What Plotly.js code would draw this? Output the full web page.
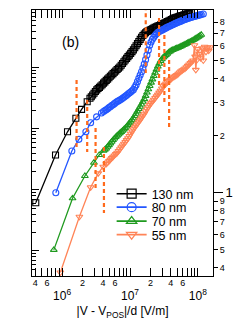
<!DOCTYPE html>
<html><head><meta charset="utf-8">
<script src="https://cdn.plot.ly/plotly-3.0.1.min.js"></script>
<style>html,body{margin:0;padding:0;background:#fff;}#plot{width:245px;height:327px;}</style>
</head><body><div id="plot"></div>
<script>
// ---- data ----
const seriesNames = ['130 nm', '80 nm', '70 nm', '55 nm'];

const x130 = [4.09e5, 7.99e5, 1.20e6, 1.594e6, 1.934e6, 2.34e6,
  2.57e6, 2.69e6, 2.818e6, 2.951e6, 3.09e6, 3.236e6, 3.388e6, 3.548e6, 3.715e6, 3.89e6,
  4.074e6, 4.266e6, 4.467e6, 4.677e6, 4.898e6, 5.129e6, 5.37e6, 5.623e6, 5.888e6, 6.166e6,
  6.457e6, 6.761e6, 7.079e6, 7.413e6, 7.762e6, 8.128e6, 8.511e6, 8.913e6, 9.333e6, 9.772e6,
  1.023e7, 1.072e7, 1.122e7, 1.175e7, 1.23e7, 1.288e7, 1.349e7, 1.413e7, 1.479e7, 1.549e7,
  1.622e7, 1.698e7, 1.778e7, 1.862e7, 1.95e7, 2.042e7, 2.138e7, 2.239e7, 2.344e7, 2.455e7,
  2.57e7, 2.692e7, 2.818e7, 2.951e7, 3.09e7, 3.236e7, 3.388e7, 3.548e7, 3.715e7, 3.89e7,
  4.074e7, 4.266e7, 4.467e7, 4.677e7, 4.898e7, 5.129e7, 5.37e7, 5.623e7, 5.888e7, 6.166e7,
  6.457e7, 6.761e7, 7.079e7, 7.413e7, 7.59e7];
const y130 = [0.885, 1.583, 2.10, 2.476, 2.762, 3.03,
  3.16, 3.22, 3.29, 3.36, 3.43, 3.50, 3.56, 3.61, 3.67, 3.73,
  3.80, 3.86, 3.93, 3.99, 4.06, 4.13, 4.20, 4.27, 4.34, 4.41,
  4.49, 4.56, 4.63, 4.73, 4.83, 4.93, 5.04, 5.14, 5.25, 5.35,
  5.46, 5.58, 5.70, 5.85, 6.00, 6.15, 6.31, 6.48, 6.65, 6.79,
  6.92, 7.03, 7.13, 7.19, 7.24, 7.31, 7.38, 7.44, 7.50, 7.56,
  7.62, 7.67, 7.73, 7.79, 7.85, 7.91, 7.98, 8.04, 8.11, 8.18,
  8.26, 8.32, 8.39, 8.44, 8.49, 8.54, 8.59, 8.63, 8.67, 8.72,
  8.77, 8.81, 8.85, 8.90, 8.93];

const x80 = [8.07e5, 1.39e6, 1.765e6, 2.24e6, 2.63e6, 3.22e6,
  3.80e6, 4.074e6, 4.266e6, 4.467e6, 4.677e6, 4.898e6, 5.129e6, 5.37e6, 5.623e6, 5.888e6,
  6.166e6, 6.457e6, 6.761e6, 7.079e6, 7.413e6, 7.762e6, 8.128e6, 8.511e6, 8.913e6, 9.333e6,
  9.772e6, 1.023e7, 1.072e7, 1.122e7, 1.175e7, 1.23e7, 1.288e7, 1.349e7, 1.413e7, 1.479e7,
  1.549e7, 1.622e7, 1.698e7, 1.778e7, 1.862e7, 1.95e7, 2.042e7, 2.138e7, 2.239e7, 2.344e7,
  2.455e7, 2.57e7, 2.692e7, 2.818e7, 2.951e7, 3.09e7, 3.236e7, 3.388e7, 3.548e7, 3.715e7,
  3.89e7, 4.074e7, 4.266e7, 4.467e7, 4.677e7, 4.898e7, 5.129e7, 5.37e7, 5.623e7, 5.888e7,
  6.166e7, 6.457e7, 6.761e7, 7.079e7, 7.413e7, 7.762e7, 8.128e7, 8.511e7, 8.913e7, 9.333e7,
  9.772e7, 1.023e8, 1.072e8, 1.122e8, 1.202e8];
const y80 = [1.0, 1.662, 1.916, 2.10, 2.346, 2.52,
  2.64, 2.69, 2.72, 2.75, 2.78, 2.82, 2.85, 2.89, 2.92, 2.96,
  3.00, 3.04, 3.06, 3.09, 3.12, 3.16, 3.20, 3.24, 3.28, 3.33,
  3.37, 3.41, 3.46, 3.51, 3.61, 3.72, 3.87, 4.03, 4.20, 4.37,
  4.57, 4.79, 5.06, 5.35, 5.68, 6.03, 6.27, 6.49, 6.65, 6.81,
  6.94, 7.06, 7.13, 7.19, 7.25, 7.31, 7.38, 7.45, 7.51, 7.57,
  7.63, 7.69, 7.75, 7.82, 7.87, 7.93, 7.98, 8.04, 8.09, 8.15,
  8.20, 8.26, 8.31, 8.36, 8.40, 8.45, 8.49, 8.53, 8.57, 8.61,
  8.65, 8.69, 8.73, 8.77, 8.83];

const x70 = [7.54e5, 1.424e6, 2.164e6, 2.94e6, 3.52e6,
  4.074e6, 4.266e6, 4.467e6, 4.677e6, 4.898e6, 5.129e6, 5.37e6, 5.623e6, 5.888e6, 6.166e6,
  6.457e6, 6.761e6, 7.079e6, 7.413e6, 7.762e6, 8.128e6, 8.511e6, 8.913e6, 9.333e6, 9.772e6,
  1.023e7, 1.072e7, 1.122e7, 1.175e7, 1.23e7, 1.288e7, 1.349e7, 1.413e7, 1.479e7, 1.549e7,
  1.622e7, 1.698e7, 1.778e7, 1.862e7, 1.95e7, 2.042e7, 2.138e7, 2.239e7, 2.344e7, 2.455e7,
  2.57e7, 2.692e7, 2.818e7, 2.951e7, 3.09e7, 3.236e7, 3.388e7, 3.548e7, 3.715e7, 3.89e7,
  4.074e7, 4.266e7, 4.467e7, 4.677e7, 4.898e7, 5.129e7, 5.37e7, 5.623e7, 5.888e7, 6.166e7,
  6.457e7, 6.761e7, 7.079e7, 7.413e7, 7.762e7, 8.128e7, 8.511e7, 8.913e7, 9.333e7, 9.772e7,
  1.023e8, 1.072e8, 1.122e8];
const y70 = [0.498, 0.934, 1.226, 1.441, 1.583,
  1.667, 1.690, 1.714, 1.750, 1.786, 1.824, 1.862, 1.899, 1.936, 1.970,
  2.004, 2.034, 2.065, 2.096, 2.128, 2.163, 2.198, 2.239, 2.28, 2.328,
  2.377, 2.427, 2.477, 2.547, 2.618, 2.694, 2.773, 2.851, 2.931, 3.027,
  3.126, 3.254, 3.388, 3.528, 3.673, 3.824, 3.981, 4.145, 4.315, 4.482,
  4.656, 4.814, 4.977, 5.087, 5.20, 5.279, 5.358, 5.445, 5.534, 5.598,
  5.662, 5.701, 5.741, 5.781, 5.821, 5.861, 5.902, 5.950, 5.998, 6.046,
  6.095, 6.152, 6.209, 6.259, 6.31, 6.368, 6.427, 6.494, 6.561, 6.63,
  6.699, 6.777, 6.855];

const x55 = [9.41e5, 1.795e6, 2.63e6, 3.40e6, 4.03e6,
  4.467e6, 4.677e6, 4.898e6, 5.129e6, 5.37e6, 5.623e6, 5.888e6, 6.166e6, 6.457e6, 6.761e6,
  7.079e6, 7.413e6, 7.762e6, 8.128e6, 8.511e6, 8.913e6, 9.333e6, 9.772e6, 1.023e7, 1.072e7,
  1.122e7, 1.175e7, 1.23e7, 1.288e7, 1.349e7, 1.413e7, 1.479e7, 1.549e7, 1.622e7, 1.698e7,
  1.778e7, 1.862e7, 1.95e7, 2.042e7, 2.138e7, 2.239e7, 2.344e7, 2.455e7, 2.57e7, 2.692e7,
  2.818e7, 2.951e7, 3.09e7, 3.236e7, 3.388e7, 3.548e7, 3.715e7, 3.89e7, 4.074e7, 4.266e7,
  4.467e7, 4.677e7, 4.898e7, 5.129e7, 5.37e7, 5.623e7, 5.888e7, 6.166e7, 6.457e7, 6.761e7,
  7.079e7, 7.413e7, 7.762e7, 8.128e7, 8.511e7,
  8.91e7, 9.12e7, 9.33e7, 9.55e7, 1.0e8, 1.047e8, 1.096e8, 1.148e8, 1.202e8, 1.259e8,
  1.318e8, 1.38e8, 1.445e8, 1.514e8];
const y55 = [0.378, 0.746, 1.068, 1.266, 1.373,
  1.419, 1.444, 1.469, 1.496, 1.524, 1.549, 1.574, 1.600, 1.626, 1.662,
  1.698, 1.738, 1.778, 1.816, 1.854, 1.897, 1.941, 1.995, 2.051, 2.109,
  2.168, 2.218, 2.27, 2.323, 2.377, 2.435, 2.495, 2.556, 2.618, 2.698,
  2.78, 2.848, 2.917, 2.978, 3.041, 3.105, 3.17, 3.236, 3.304, 3.385,
  3.467, 3.56, 3.656, 3.72, 3.784, 3.841, 3.899, 3.954, 4.009, 4.06,
  4.111, 4.154, 4.198, 4.261, 4.325, 4.385, 4.446, 4.492, 4.539, 4.613,
  4.688, 4.77, 4.853, 4.93, 5.012,
  6.03, 5.25, 4.47, 5.01, 5.75, 5.43, 5.15, 5.82, 5.01, 5.92,
  5.56, 5.86, 5.65, 5.89];

// dashed orange markers (vertical segments)
const kneeX      = [1.706e7, 2.68e7, 3.21e7, 3.77e7, 1.632e6, 2.34e6, 3.11e6, 4.13e6];
const kneeTop    = [9.7, 8.40, 6.83, 5.04, 3.95, 3.09, 2.20, 1.745];
const kneeBottom = [4.30, 3.58, 2.98, 2.20, 1.745, 1.642, 1.033, 0.781];

// tick values / labels
const xMajorVals = [1e6, 1e7, 1e8];
const xMajorText = ['10<sup>6</sup>', '10<sup>7</sup>', '10<sup>8</sup>'];
const xMinorVals = [4e5,5e5,6e5,7e5,8e5,9e5, 2e6,3e6,4e6,5e6,6e6,7e6,8e6,9e6, 2e7,3e7,4e7,5e7,6e7,7e7,8e7,9e7];
const xMinorLabVals = [4e5, 6e5, 2e6, 4e6, 6e6, 2e7, 4e7, 6e7];
const xMinorLabText = ['4', '6', '2', '4', '6', '2', '4', '6'];
const yRightVals = [0.4,0.5,0.6,0.7,0.8,0.9, 2,3,4,5,6,7,8];
const yRightText = ['4','5','6','7','8','9', '2','3','4','5','6','7','8'];
const yRightMajorVals = [1];
const yRightMajorText = ['1'];
const yLeftMajorVals = [0.1, 1, 10, 100];
const yLeftMinorVals = [0.04,0.05,0.06,0.07,0.08,0.09, 0.2,0.3,0.4,0.5,0.6,0.7,0.8,0.9, 2,3,4,5,6,7,8,9, 20,30,40,50,60,70,80,90, 200,300,400,500,600,700,800];

const colors = ['#000000', '#2356ff', '#1f9a1f', '#ff8457'];
const symbols = ['square-open', 'circle-open', 'triangle-up-open', 'triangle-down-open'];
const dashColor = '#ff6a1c';

const xs = [x130, x80, x70, x55];
const ys = [y130, y80, y70, y55];

const traces = [];
for (let i = 0; i < 4; i++) {
  traces.push({
    x: xs[i], y: ys[i], type: 'scatter', mode: 'lines+markers',
    line: {color: colors[i], width: 1.3},
    marker: {symbol: symbols[i], size: 6, color: colors[i], line: {width: 1.1, color: colors[i]}},
    showlegend: false, hoverinfo: 'skip'
  });
}
// dashed vertical segments
const dx = [], dy = [];
for (let i = 0; i < kneeX.length; i++) {
  dx.push(kneeX[i], kneeX[i], null);
  dy.push(kneeTop[i], kneeBottom[i], null);
}
traces.push({x: dx, y: dy, type: 'scatter', mode: 'lines',
  line: {color: dashColor, width: 2.2, dash: '4px,3px'}, showlegend: false, hoverinfo: 'skip'});

// legend-only entries (one legend box per row)
const legendIds = ['legend', 'legend2', 'legend3', 'legend4'];
const legAxes = [['x2','y'], ['x','y2'], ['x','y3'], ['x','y']];
for (let i = 0; i < 4; i++) {
  traces.push({
    x: [null], y: [null], type: 'scatter', mode: 'lines+markers', name: seriesNames[i],
    xaxis: legAxes[i][0], yaxis: legAxes[i][1],
    line: {color: colors[i], width: 1.6},
    marker: {symbol: symbols[i], size: 9, color: colors[i], line: {width: 1.2, color: colors[i]}},
    legend: legendIds[i], showlegend: true
  });
}

const xr = [5.556, 8.223];
const yr = [-0.441, 0.967];
const legRowsY = [0.308, 0.2575, 0.205, 0.154];
const legX = 0.44;
function legendCfg(yy) {
  return {x: legX, y: yy, xanchor: 'left', yanchor: 'middle', bgcolor: 'rgba(0,0,0,0)',
    borderwidth: 0, font: {size: 12.5, color: '#000'}, itemwidth: 30};
}

const layout = {
  width: 245, height: 327,
  margin: {l: 32, r: 32, t: 10, b: 51, pad: 0},
  paper_bgcolor: '#fff', plot_bgcolor: '#fff',
  font: {family: '"Liberation Sans", Arial, sans-serif', color: '#000'},
  showlegend: true,
  legend: legendCfg(legRowsY[0]),
  legend2: legendCfg(legRowsY[1]),
  legend3: legendCfg(legRowsY[2]),
  legend4: legendCfg(legRowsY[3]),
  xaxis: {
    type: 'log', range: xr, tickmode: 'array', tickvals: xMajorVals, ticktext: xMajorText,
    ticks: 'inside', ticklen: 8, tickwidth: 1, tickcolor: '#000',
    showline: true, linecolor: '#000', linewidth: 1, mirror: 'allticks',
    showgrid: false, zeroline: false, tickfont: {size: 12}, ticklabelstandoff: 9,
    minor: {tickmode: 'array', tickvals: xMinorVals, ticks: 'inside', ticklen: 4, tickwidth: 1, tickcolor: '#000', showgrid: false},
    title: {text: '|V - V<sub>POS</sub>|/d [V/m]', font: {size: 12}, standoff: 4}
  },
  xaxis2: {
    type: 'log', range: xr, overlaying: 'x', anchor: 'y', side: 'bottom',
    tickmode: 'array', tickvals: xMinorLabVals, ticktext: xMinorLabText,
    ticks: '', showline: false, showgrid: false, zeroline: false, tickfont: {size: 9}
  },
  yaxis: {
    type: 'log', range: yr, side: 'right', tickmode: 'array', tickvals: yRightVals, ticktext: yRightText,
    ticks: 'outside', ticklen: 4, tickwidth: 1, tickcolor: '#000', tickfont: {size: 9},
    showline: true, linecolor: '#000', linewidth: 1, showgrid: false, zeroline: false
  },
  yaxis2: {
    type: 'log', range: yr, overlaying: 'y', side: 'right', anchor: 'x',
    tickmode: 'array', tickvals: yRightMajorVals, ticktext: yRightMajorText,
    ticks: 'outside', ticklen: 9, tickwidth: 1, tickcolor: '#000', tickfont: {size: 13},
    showline: false, showgrid: false, zeroline: false
  },
  yaxis3: {
    type: 'log', range: [-1.41, 2.95], overlaying: 'y', side: 'left', anchor: 'x',
    tickmode: 'array', tickvals: yLeftMajorVals, showticklabels: false,
    ticks: 'inside', ticklen: 7, tickwidth: 1, tickcolor: '#000',
    minor: {tickmode: 'array', tickvals: yLeftMinorVals, ticks: 'inside', ticklen: 4, tickwidth: 1, tickcolor: '#000', showgrid: false},
    showline: true, linecolor: '#000', linewidth: 1, showgrid: false, zeroline: false
  },
  annotations: [{text: '(b)', xref: 'paper', yref: 'paper', x: 0.21, y: 0.88, showarrow: false,
    font: {size: 14, color: '#000'}, xanchor: 'center', yanchor: 'middle'}]
};

Plotly.newPlot('plot', traces, layout, {staticPlot: true, displayModeBar: false});
</script>
</body></html>
